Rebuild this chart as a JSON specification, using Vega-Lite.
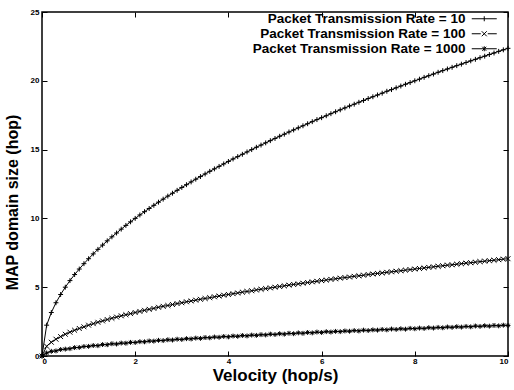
{
  "$schema": "https://vega.github.io/schema/vega-lite/v6.json",
  "width": 466,
  "height": 344,
  "autosize": {"type": "none"},
  "padding": {"left": 42, "top": 12, "right": 6, "bottom": 34},
  "background": "white",
  "config": {
    "font": "Liberation Sans",
    "view": {"stroke": "black", "strokeWidth": 1.5},
    "axis": {"grid": false, "domain": false, "tickColor": "black", "tickSize": -5, "tickWidth": 1, "labelFont": "Liberation Sans", "labelFontWeight": "bold", "labelFontSize": 8, "labelColor": "black", "titleFont": "Liberation Sans", "titleFontWeight": "bold", "titleColor": "black"}
  },
  "data": {"values": [
    {"x":0,"y":0,"rate":10},{"x":0.1,"y":2.24,"rate":10},{"x":0.2,"y":3.16,"rate":10},{"x":0.3,"y":3.87,"rate":10},{"x":0.4,"y":4.47,"rate":10},{"x":0.5,"y":5.0,"rate":10},{"x":0.6,"y":5.48,"rate":10},{"x":0.7,"y":5.92,"rate":10},{"x":0.8,"y":6.32,"rate":10},{"x":0.9,"y":6.71,"rate":10},
    {"x":1.0,"y":7.07,"rate":10},{"x":1.1,"y":7.42,"rate":10},{"x":1.2,"y":7.75,"rate":10},{"x":1.3,"y":8.06,"rate":10},{"x":1.4,"y":8.37,"rate":10},{"x":1.5,"y":8.66,"rate":10},{"x":1.6,"y":8.94,"rate":10},{"x":1.7,"y":9.22,"rate":10},{"x":1.8,"y":9.49,"rate":10},{"x":1.9,"y":9.75,"rate":10},
    {"x":2.0,"y":10.0,"rate":10},{"x":2.1,"y":10.25,"rate":10},{"x":2.2,"y":10.49,"rate":10},{"x":2.3,"y":10.72,"rate":10},{"x":2.4,"y":10.95,"rate":10},{"x":2.5,"y":11.18,"rate":10},{"x":2.6,"y":11.4,"rate":10},{"x":2.7,"y":11.62,"rate":10},{"x":2.8,"y":11.83,"rate":10},{"x":2.9,"y":12.04,"rate":10},
    {"x":3.0,"y":12.25,"rate":10},{"x":3.1,"y":12.45,"rate":10},{"x":3.2,"y":12.65,"rate":10},{"x":3.3,"y":12.85,"rate":10},{"x":3.4,"y":13.04,"rate":10},{"x":3.5,"y":13.23,"rate":10},{"x":3.6,"y":13.42,"rate":10},{"x":3.7,"y":13.6,"rate":10},{"x":3.8,"y":13.78,"rate":10},{"x":3.9,"y":13.96,"rate":10},
    {"x":4.0,"y":14.14,"rate":10},{"x":4.1,"y":14.32,"rate":10},{"x":4.2,"y":14.49,"rate":10},{"x":4.3,"y":14.66,"rate":10},{"x":4.4,"y":14.83,"rate":10},{"x":4.5,"y":15.0,"rate":10},{"x":4.6,"y":15.17,"rate":10},{"x":4.7,"y":15.33,"rate":10},{"x":4.8,"y":15.49,"rate":10},{"x":4.9,"y":15.65,"rate":10},
    {"x":5.0,"y":15.81,"rate":10},{"x":5.1,"y":15.97,"rate":10},{"x":5.2,"y":16.12,"rate":10},{"x":5.3,"y":16.28,"rate":10},{"x":5.4,"y":16.43,"rate":10},{"x":5.5,"y":16.58,"rate":10},{"x":5.6,"y":16.73,"rate":10},{"x":5.7,"y":16.88,"rate":10},{"x":5.8,"y":17.03,"rate":10},{"x":5.9,"y":17.18,"rate":10},
    {"x":6.0,"y":17.32,"rate":10},{"x":6.1,"y":17.46,"rate":10},{"x":6.2,"y":17.61,"rate":10},{"x":6.3,"y":17.75,"rate":10},{"x":6.4,"y":17.89,"rate":10},{"x":6.5,"y":18.03,"rate":10},{"x":6.6,"y":18.17,"rate":10},{"x":6.7,"y":18.3,"rate":10},{"x":6.8,"y":18.44,"rate":10},{"x":6.9,"y":18.57,"rate":10},
    {"x":7.0,"y":18.71,"rate":10},{"x":7.1,"y":18.84,"rate":10},{"x":7.2,"y":18.97,"rate":10},{"x":7.3,"y":19.1,"rate":10},{"x":7.4,"y":19.24,"rate":10},{"x":7.5,"y":19.36,"rate":10},{"x":7.6,"y":19.49,"rate":10},{"x":7.7,"y":19.62,"rate":10},{"x":7.8,"y":19.75,"rate":10},{"x":7.9,"y":19.87,"rate":10},
    {"x":8.0,"y":20.0,"rate":10},{"x":8.1,"y":20.12,"rate":10},{"x":8.2,"y":20.25,"rate":10},{"x":8.3,"y":20.37,"rate":10},{"x":8.4,"y":20.49,"rate":10},{"x":8.5,"y":20.62,"rate":10},{"x":8.6,"y":20.74,"rate":10},{"x":8.7,"y":20.86,"rate":10},{"x":8.8,"y":20.98,"rate":10},{"x":8.9,"y":21.1,"rate":10},
    {"x":9.0,"y":21.21,"rate":10},{"x":9.1,"y":21.33,"rate":10},{"x":9.2,"y":21.45,"rate":10},{"x":9.3,"y":21.56,"rate":10},{"x":9.4,"y":21.68,"rate":10},{"x":9.5,"y":21.79,"rate":10},{"x":9.6,"y":21.91,"rate":10},{"x":9.7,"y":22.02,"rate":10},{"x":9.8,"y":22.14,"rate":10},{"x":9.9,"y":22.25,"rate":10},{"x":10,"y":22.36,"rate":10},

    {"x":0,"y":0,"rate":100},{"x":0.1,"y":0.71,"rate":100},{"x":0.2,"y":1.0,"rate":100},{"x":0.3,"y":1.22,"rate":100},{"x":0.4,"y":1.41,"rate":100},{"x":0.5,"y":1.58,"rate":100},{"x":0.6,"y":1.73,"rate":100},{"x":0.7,"y":1.87,"rate":100},{"x":0.8,"y":2.0,"rate":100},{"x":0.9,"y":2.12,"rate":100},
    {"x":1.0,"y":2.24,"rate":100},{"x":1.1,"y":2.35,"rate":100},{"x":1.2,"y":2.45,"rate":100},{"x":1.3,"y":2.55,"rate":100},{"x":1.4,"y":2.65,"rate":100},{"x":1.5,"y":2.74,"rate":100},{"x":1.6,"y":2.83,"rate":100},{"x":1.7,"y":2.92,"rate":100},{"x":1.8,"y":3.0,"rate":100},{"x":1.9,"y":3.08,"rate":100},
    {"x":2.0,"y":3.16,"rate":100},{"x":2.1,"y":3.24,"rate":100},{"x":2.2,"y":3.32,"rate":100},{"x":2.3,"y":3.39,"rate":100},{"x":2.4,"y":3.46,"rate":100},{"x":2.5,"y":3.54,"rate":100},{"x":2.6,"y":3.61,"rate":100},{"x":2.7,"y":3.67,"rate":100},{"x":2.8,"y":3.74,"rate":100},{"x":2.9,"y":3.81,"rate":100},
    {"x":3.0,"y":3.87,"rate":100},{"x":3.1,"y":3.94,"rate":100},{"x":3.2,"y":4.0,"rate":100},{"x":3.3,"y":4.06,"rate":100},{"x":3.4,"y":4.12,"rate":100},{"x":3.5,"y":4.18,"rate":100},{"x":3.6,"y":4.24,"rate":100},{"x":3.7,"y":4.3,"rate":100},{"x":3.8,"y":4.36,"rate":100},{"x":3.9,"y":4.42,"rate":100},
    {"x":4.0,"y":4.47,"rate":100},{"x":4.1,"y":4.53,"rate":100},{"x":4.2,"y":4.58,"rate":100},{"x":4.3,"y":4.64,"rate":100},{"x":4.4,"y":4.69,"rate":100},{"x":4.5,"y":4.74,"rate":100},{"x":4.6,"y":4.8,"rate":100},{"x":4.7,"y":4.85,"rate":100},{"x":4.8,"y":4.9,"rate":100},{"x":4.9,"y":4.95,"rate":100},
    {"x":5.0,"y":5.0,"rate":100},{"x":5.1,"y":5.05,"rate":100},{"x":5.2,"y":5.1,"rate":100},{"x":5.3,"y":5.15,"rate":100},{"x":5.4,"y":5.2,"rate":100},{"x":5.5,"y":5.24,"rate":100},{"x":5.6,"y":5.29,"rate":100},{"x":5.7,"y":5.34,"rate":100},{"x":5.8,"y":5.39,"rate":100},{"x":5.9,"y":5.43,"rate":100},
    {"x":6.0,"y":5.48,"rate":100},{"x":6.1,"y":5.52,"rate":100},{"x":6.2,"y":5.57,"rate":100},{"x":6.3,"y":5.61,"rate":100},{"x":6.4,"y":5.66,"rate":100},{"x":6.5,"y":5.7,"rate":100},{"x":6.6,"y":5.74,"rate":100},{"x":6.7,"y":5.79,"rate":100},{"x":6.8,"y":5.83,"rate":100},{"x":6.9,"y":5.87,"rate":100},
    {"x":7.0,"y":5.92,"rate":100},{"x":7.1,"y":5.96,"rate":100},{"x":7.2,"y":6.0,"rate":100},{"x":7.3,"y":6.04,"rate":100},{"x":7.4,"y":6.08,"rate":100},{"x":7.5,"y":6.12,"rate":100},{"x":7.6,"y":6.16,"rate":100},{"x":7.7,"y":6.2,"rate":100},{"x":7.8,"y":6.24,"rate":100},{"x":7.9,"y":6.28,"rate":100},
    {"x":8.0,"y":6.32,"rate":100},{"x":8.1,"y":6.36,"rate":100},{"x":8.2,"y":6.4,"rate":100},{"x":8.3,"y":6.44,"rate":100},{"x":8.4,"y":6.48,"rate":100},{"x":8.5,"y":6.52,"rate":100},{"x":8.6,"y":6.56,"rate":100},{"x":8.7,"y":6.6,"rate":100},{"x":8.8,"y":6.63,"rate":100},{"x":8.9,"y":6.67,"rate":100},
    {"x":9.0,"y":6.71,"rate":100},{"x":9.1,"y":6.75,"rate":100},{"x":9.2,"y":6.78,"rate":100},{"x":9.3,"y":6.82,"rate":100},{"x":9.4,"y":6.86,"rate":100},{"x":9.5,"y":6.89,"rate":100},{"x":9.6,"y":6.93,"rate":100},{"x":9.7,"y":6.96,"rate":100},{"x":9.8,"y":7.0,"rate":100},{"x":9.9,"y":7.04,"rate":100},{"x":10,"y":7.07,"rate":100},

    {"x":0,"y":0,"rate":1000},{"x":0.1,"y":0.22,"rate":1000},{"x":0.2,"y":0.34,"rate":1000},{"x":0.3,"y":0.37,"rate":1000},{"x":0.4,"y":0.47,"rate":1000},{"x":0.5,"y":0.5,"rate":1000},{"x":0.6,"y":0.53,"rate":1000},{"x":0.7,"y":0.61,"rate":1000},{"x":0.8,"y":0.62,"rate":1000},{"x":0.9,"y":0.69,"rate":1000},
    {"x":1.0,"y":0.7,"rate":1000},{"x":1.1,"y":0.76,"rate":1000},{"x":1.2,"y":0.75,"rate":1000},{"x":1.3,"y":0.83,"rate":1000},{"x":1.4,"y":0.82,"rate":1000},{"x":1.5,"y":0.89,"rate":1000},{"x":1.6,"y":0.87,"rate":1000},{"x":1.7,"y":0.94,"rate":1000},{"x":1.8,"y":0.93,"rate":1000},{"x":1.9,"y":0.99,"rate":1000},
    {"x":2.0,"y":0.98,"rate":1000},{"x":2.1,"y":1.04,"rate":1000},{"x":2.2,"y":1.03,"rate":1000},{"x":2.3,"y":1.09,"rate":1000},{"x":2.4,"y":1.08,"rate":1000},{"x":2.5,"y":1.14,"rate":1000},{"x":2.6,"y":1.12,"rate":1000},{"x":2.7,"y":1.18,"rate":1000},{"x":2.8,"y":1.16,"rate":1000},{"x":2.9,"y":1.22,"rate":1000},
    {"x":3.0,"y":1.2,"rate":1000},{"x":3.1,"y":1.26,"rate":1000},{"x":3.2,"y":1.24,"rate":1000},{"x":3.3,"y":1.3,"rate":1000},{"x":3.4,"y":1.28,"rate":1000},{"x":3.5,"y":1.34,"rate":1000},{"x":3.6,"y":1.32,"rate":1000},{"x":3.7,"y":1.38,"rate":1000},{"x":3.8,"y":1.36,"rate":1000},{"x":3.9,"y":1.42,"rate":1000},
    {"x":4.0,"y":1.39,"rate":1000},{"x":4.1,"y":1.45,"rate":1000},{"x":4.2,"y":1.43,"rate":1000},{"x":4.3,"y":1.49,"rate":1000},{"x":4.4,"y":1.46,"rate":1000},{"x":4.5,"y":1.52,"rate":1000},{"x":4.6,"y":1.5,"rate":1000},{"x":4.7,"y":1.55,"rate":1000},{"x":4.8,"y":1.53,"rate":1000},{"x":4.9,"y":1.59,"rate":1000},
    {"x":5.0,"y":1.56,"rate":1000},{"x":5.1,"y":1.62,"rate":1000},{"x":5.2,"y":1.59,"rate":1000},{"x":5.3,"y":1.65,"rate":1000},{"x":5.4,"y":1.62,"rate":1000},{"x":5.5,"y":1.68,"rate":1000},{"x":5.6,"y":1.65,"rate":1000},{"x":5.7,"y":1.71,"rate":1000},{"x":5.8,"y":1.68,"rate":1000},{"x":5.9,"y":1.74,"rate":1000},
    {"x":6.0,"y":1.71,"rate":1000},{"x":6.1,"y":1.77,"rate":1000},{"x":6.2,"y":1.74,"rate":1000},{"x":6.3,"y":1.79,"rate":1000},{"x":6.4,"y":1.77,"rate":1000},{"x":6.5,"y":1.82,"rate":1000},{"x":6.6,"y":1.8,"rate":1000},{"x":6.7,"y":1.85,"rate":1000},{"x":6.8,"y":1.82,"rate":1000},{"x":6.9,"y":1.88,"rate":1000},
    {"x":7.0,"y":1.85,"rate":1000},{"x":7.1,"y":1.9,"rate":1000},{"x":7.2,"y":1.88,"rate":1000},{"x":7.3,"y":1.93,"rate":1000},{"x":7.4,"y":1.9,"rate":1000},{"x":7.5,"y":1.96,"rate":1000},{"x":7.6,"y":1.93,"rate":1000},{"x":7.7,"y":1.98,"rate":1000},{"x":7.8,"y":1.95,"rate":1000},{"x":7.9,"y":2.01,"rate":1000},
    {"x":8.0,"y":1.98,"rate":1000},{"x":8.1,"y":2.03,"rate":1000},{"x":8.2,"y":2.0,"rate":1000},{"x":8.3,"y":2.06,"rate":1000},{"x":8.4,"y":2.03,"rate":1000},{"x":8.5,"y":2.08,"rate":1000},{"x":8.6,"y":2.05,"rate":1000},{"x":8.7,"y":2.11,"rate":1000},{"x":8.8,"y":2.08,"rate":1000},{"x":8.9,"y":2.13,"rate":1000},
    {"x":9.0,"y":2.1,"rate":1000},{"x":9.1,"y":2.15,"rate":1000},{"x":9.2,"y":2.12,"rate":1000},{"x":9.3,"y":2.18,"rate":1000},{"x":9.4,"y":2.15,"rate":1000},{"x":9.5,"y":2.2,"rate":1000},{"x":9.6,"y":2.17,"rate":1000},{"x":9.7,"y":2.22,"rate":1000},{"x":9.8,"y":2.19,"rate":1000},{"x":9.9,"y":2.24,"rate":1000},{"x":10,"y":2.22,"rate":1000}
  ]},
  "encoding": {
    "x": {"field": "x", "type": "quantitative", "scale": {"domain": [0, 10], "nice": false}},
    "y": {"field": "y", "type": "quantitative", "scale": {"domain": [0, 25], "nice": false}}
  },
  "layer": [
    {
      "mark": {"type": "line", "color": "black", "strokeWidth": 1},
      "encoding": {
        "detail": {"field": "rate", "type": "nominal"},
        "x": {"field": "x", "type": "quantitative", "axis": {"values": [0, 2, 4, 6, 8, 10], "title": "Velocity (hop/s)", "titleFontSize": 17, "titlePadding": 2, "labelPadding": 6}},
        "y": {"field": "y", "type": "quantitative", "axis": {"values": [0, 5, 10, 15, 20, 25], "title": "MAP domain size (hop)", "titleFontSize": 16, "titlePadding": 10, "labelPadding": 8, "titleY": 190}}
      }
    },
    {
      "mark": {"type": "point", "filled": false, "color": "black", "strokeWidth": 1, "size": 24, "opacity": 1},
      "encoding": {
        "x": {"field": "x", "type": "quantitative", "axis": {"orient": "top", "values": [0, 2, 4, 6, 8, 10], "labels": false, "title": null}},
        "y": {"field": "y", "type": "quantitative", "axis": {"orient": "right", "values": [0, 5, 10, 15, 20, 25], "labels": false, "title": null}},
        "shape": {
          "field": "rate", "type": "nominal",
          "scale": {"domain": [10, 100, 1000], "range": ["M-1,0L1,0M0,-1L0,1", "M-1,-1L1,1M-1,1L1,-1", "M-1,0L1,0M0,-1L0,1M-0.7,-0.7L0.7,0.7M-0.7,0.7L0.7,-0.7"]},
          "legend": null
        }
      }
    },
    {
      "transform": [{"filter": "datum.x == 0"}],
      "mark": {"type": "point", "filled": false, "color": "black", "strokeWidth": 1, "opacity": 0},
      "encoding": {
        "x": {"field": "x", "type": "quantitative", "axis": null},
        "y": {"field": "y", "type": "quantitative", "axis": null},
        "shape": {
          "field": "rate", "type": "nominal",
          "scale": {"domain": [10, 100, 1000], "range": ["M-1,0L4,0M1.5,-0.5L1.5,0.5", "M-1,0L0.8,0M2.2,0L4,0M1,-0.5L2,0.5M1,0.5L2,-0.5", "M-1,0L4,0M1.1,-0.4L1.9,0.4M1.1,0.4L1.9,-0.4M1.5,-0.5L1.5,0.5"]},
          "legend": {
            "orient": "none", "legendX": 428, "legendY": 0, "title": null, "padding": 0,
            "labelExpr": "'Packet Transmission Rate = ' + datum.label",
            "labelFont": "Liberation Sans", "labelFontWeight": "bold", "labelFontSize": 13.5, "labelColor": "black", "labelLimit": 400,
            "labelAlign": "right", "labelOffset": -18, "rowPadding": 0,
            "symbolSize": 100, "symbolStrokeColor": "black", "symbolStrokeWidth": 1, "symbolFillColor": "transparent", "symbolOpacity": 1
          }
        }
      }
    }
  ],
  "resolve": {"axis": {"x": "independent", "y": "independent"}, "scale": {"shape": "independent"}}
}
